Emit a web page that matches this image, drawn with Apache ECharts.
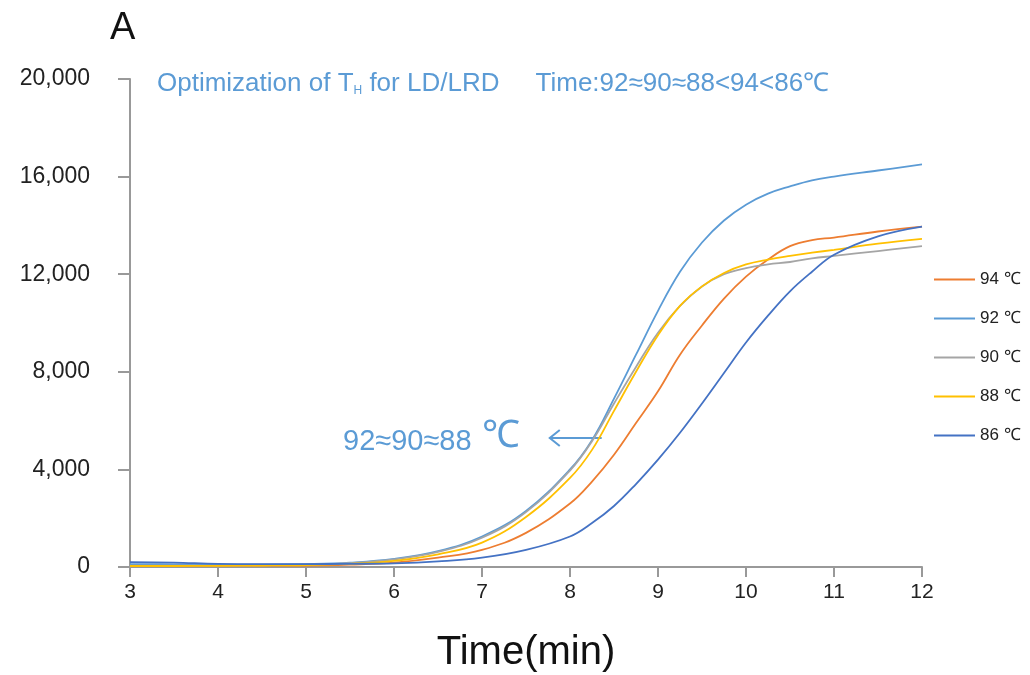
<!DOCTYPE html>
<html>
<head>
<meta charset="utf-8">
<script src="https://cdn.jsdelivr.net/npm/echarts@6/dist/echarts.min.js"></script>
<style>
  html, body { margin: 0; padding: 0; background: #fff; }
  #chart { width: 1030px; height: 675px; }
</style>
</head>
<body>
<div id="chart"></div>
<script>
// time points (min)
const times = [3, 3.5, 4, 4.5, 5, 5.5, 6, 6.5, 7, 7.5, 8, 8.25, 8.5, 8.75, 9, 9.25, 9.5, 9.75, 10, 10.25, 10.5, 10.75, 11, 11.5, 12]

// fluorescence readings per hybridization temperature
const t94 = [50, 50, 50, 55, 60, 100, 180, 380, 700, 1400, 2600, 3500, 4600, 5900, 7200, 8700, 9900, 11000, 11900, 12600, 13150, 13400, 13500, 13750, 13950]
const t92 = [120, 110, 100, 100, 120, 180, 330, 650, 1250, 2300, 4000, 5200, 6900, 8700, 10500, 12100, 13300, 14200, 14850, 15300, 15600, 15850, 16000, 16250, 16500]
const t90 = [60, 60, 60, 70, 100, 160, 310, 620, 1200, 2250, 3950, 5150, 6700, 8200, 9600, 10700, 11500, 12000, 12250, 12400, 12500, 12650, 12750, 12950, 13150]
const t88 = [40, 40, 50, 60, 80, 130, 250, 520, 1000, 2050, 3650, 4800, 6400, 8000, 9500, 10700, 11500, 12050, 12400, 12600, 12750, 12880, 13000, 13250, 13450]
const t86 = [200, 180, 130, 120, 120, 130, 150, 230, 380, 700, 1250, 1800, 2500, 3400, 4400, 5500, 6700, 7950, 9200, 10300, 11300, 12100, 12800, 13550, 13950]

const seriesNames = ['94 ℃', '92 ℃', '90 ℃', '88 ℃', '86 ℃']
const seriesData = [t94, t92, t90, t88, t86]
const colors = ['#ED7D31', '#5B9BD5', '#A5A5A5', '#FFC000', '#4472C4']

const chart = echarts.init(document.getElementById('chart'))

const font = 'Liberation Sans, Arial, sans-serif'

chart.setOption({
  animation: false,
  grid: { left: 130, right: 108, top: 79, bottom: 108, containLabel: false, outerBoundsMode: 'none' },
  legend: {
    orient: 'vertical',
    left: 929,
    top: 266,
    itemWidth: 41,
    itemHeight: 2,
    itemGap: 22,
    icon: 'rect',
    textStyle: { fontFamily: font, fontSize: 17, color: '#222' },
    data: seriesNames
  },
  xAxis: {
    type: 'value',
    min: 3,
    max: 12,
    interval: 1,
    name: 'Time(min)',
    nameLocation: 'middle',
    nameGap: 66,
    nameTextStyle: { fontFamily: font, fontSize: 40, color: '#111' },
    axisLine: { lineStyle: { color: '#999', width: 2 } },
    axisTick: { show: true, length: 10, lineStyle: { color: '#999', width: 2 } },
    axisLabel: { fontFamily: font, fontSize: 21, color: '#222', margin: 15 },
    splitLine: { show: false }
  },
  yAxis: {
    type: 'value',
    min: 0,
    max: 20000,
    interval: 4000,
    axisLine: { show: true, lineStyle: { color: '#999', width: 2 } },
    axisTick: { show: true, length: 12, lineStyle: { color: '#999', width: 2 } },
    axisLabel: {
      fontFamily: font, fontSize: 23, color: '#222', margin: 40,
      formatter: v => v.toLocaleString('en-US')
    },
    splitLine: { show: false }
  },
  series: seriesNames.map((name, i) => ({
    name,
    type: 'line',
    smooth: 0.4,
    showSymbol: false,
    lineStyle: { color: colors[i], width: 1.8 },
    itemStyle: { color: colors[i] },
    data: times.map((t, j) => [t, seriesData[i][j]])
  }))
})

// annotations: panel letter, heading, arrow label
const arrowFrom = chart.convertToPixel({ gridIndex: 0 }, [8.36, 5290])
const arrowTo = chart.convertToPixel({ gridIndex: 0 }, [7.77, 5290])

chart.setOption({
  graphic: [
    {
      type: 'text', left: 110, top: 10,
      style: { text: 'A', font: '38px ' + font, fill: '#111' }
    },
    {
      type: 'text', left: 157, top: 71,
      style: {
        text: '{n|Optimization of T}{s|H}{n| for LD/LRD     Time:92≈90≈88<94<86℃}',
        rich: {
          n: { fontFamily: font, fontSize: 26, fill: '#5B9BD5', verticalAlign: 'bottom' },
          s: { fontFamily: font, fontSize: 12, fill: '#5B9BD5', verticalAlign: 'bottom' }
        }
      }
    },
    {
      type: 'text', left: 343, top: 418,
      style: {
        text: '{a|92≈90≈88}{b| ℃}',
        rich: {
          a: { fontFamily: font, fontSize: 29, fill: '#5B9BD5', verticalAlign: 'bottom' },
          b: { fontFamily: font, fontSize: 38, fill: '#5B9BD5', verticalAlign: 'bottom' }
        }
      }
    },
    {
      type: 'polyline',
      shape: { points: [arrowFrom, arrowTo] },
      style: { stroke: '#5B9BD5', lineWidth: 2, fill: null }
    },
    {
      type: 'polyline',
      shape: { points: [[arrowTo[0] + 10, arrowTo[1] - 8], arrowTo, [arrowTo[0] + 10, arrowTo[1] + 8]] },
      style: { stroke: '#5B9BD5', lineWidth: 2, fill: null }
    }
  ]
})
</script>
</body>
</html>
